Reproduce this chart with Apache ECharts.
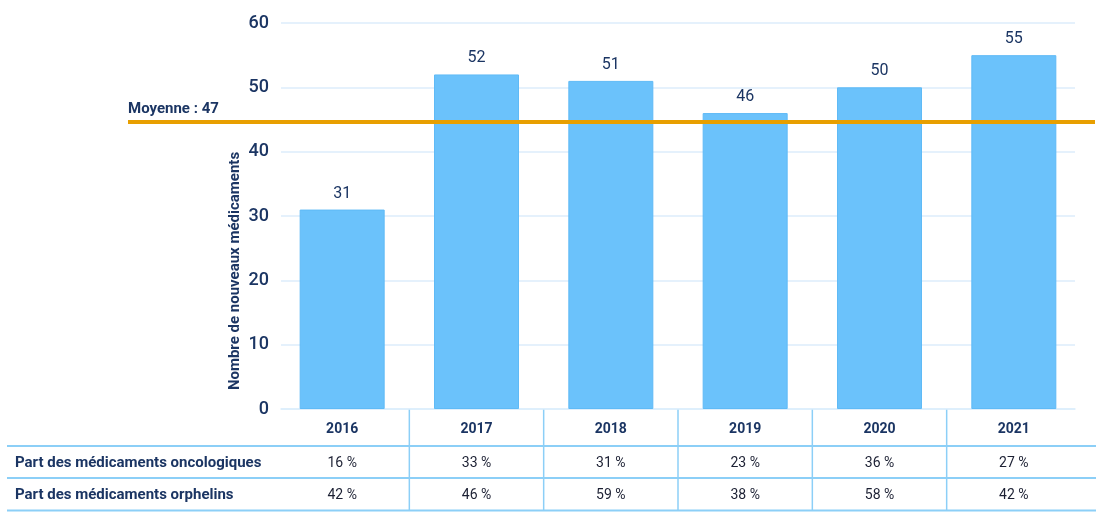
<!DOCTYPE html>
<html><head><meta charset="utf-8">
<script src="https://cdn.jsdelivr.net/npm/echarts@6/dist/echarts.min.js"></script>
<style>html,body{margin:0;padding:0;background:#fff}#c{width:1112px;height:516px}</style>
</head><body><div id="c"></div>
<script>
const years = ['2016', '2017', '2018', '2019', '2020', '2021'];
const newDrugs = [31, 52, 51, 46, 50, 55];
const oncoShare = [16, 33, 31, 23, 36, 27];
const orphanShare = [42, 46, 59, 38, 58, 42];
const yTicks = [0, 10, 20, 30, 40, 50, 60];
const averageLabel = 'Moyenne : 47';
const averageLineValue = 44.6;
const rowLabels = ['Part des médicaments oncologiques', 'Part des médicaments orphelins'];
const yAxisTitle = 'Nombre de nouveaux médicaments';

const NAVY = '#1b3563';
const FONT = 'Roboto, "Noto Sans", sans-serif';
const TABLE_LINE = '#8ccff7';
const yMin = yTicks[0], yMax = yTicks[yTicks.length - 1];

const chart = echarts.init(document.getElementById('c'));
const option = {
  animation: false,
  backgroundColor: '#fff',
  textStyle: { fontFamily: FONT },
  grid: [
    { left: 275, right: 31, top: 23, bottom: 107, outerBoundsMode: 'none', containLabel: false },
    { left: 128, right: 17, top: 23, bottom: 107, outerBoundsMode: 'none', containLabel: false },
    { left: 281, right: 37, top: 23, bottom: 107, outerBoundsMode: 'none', containLabel: false }
  ],
  xAxis: [
    {
      gridIndex: 0, type: 'category', data: years, position: 'bottom',
      axisLine: { show: false },
      axisTick: { show: false },
      axisLabel: { interval: 0, margin: 13, color: NAVY, fontWeight: 'bold', fontSize: 14, fontFamily: FONT }
    },
    {
      gridIndex: 0, type: 'category', data: oncoShare.map(v => v + ' %'), position: 'bottom', offset: 34,
      axisLine: { show: false }, axisTick: { show: false },
      axisLabel: { interval: 0, margin: 13, color: '#1c2033', fontSize: 14, fontFamily: FONT }
    },
    {
      gridIndex: 0, type: 'category', data: orphanShare.map(v => v + ' %'), position: 'bottom', offset: 66,
      axisLine: { show: false }, axisTick: { show: false },
      axisLabel: { interval: 0, margin: 13, color: '#1c2033', fontSize: 14, fontFamily: FONT }
    },
    { gridIndex: 1, type: 'value', min: 0, max: 1, show: false },
    {
      gridIndex: 2, type: 'value', min: 0, max: 1, position: 'bottom',
      axisLine: { show: true, lineStyle: { color: '#dceefb', width: 1.5 } },
      axisTick: { show: false }, axisLabel: { show: false }, splitLine: { show: false }
    }
  ],
  yAxis: [
    {
      gridIndex: 0, type: 'value', min: yMin, max: yMax, interval: 10,
      axisLine: { show: false }, axisTick: { show: false },
      splitLine: { show: false },
      axisLabel: { margin: 6, color: NAVY, fontSize: 18, fontWeight: 500, fontFamily: FONT }
    },
    { gridIndex: 1, type: 'value', min: yMin, max: yMax, show: false },
    {
      gridIndex: 2, type: 'value', min: yMin, max: yMax, interval: 10,
      axisLine: { show: false }, axisTick: { show: false }, axisLabel: { show: false },
      splitLine: { show: true, lineStyle: { color: '#dcedfb', width: 1.5 } }
    }
  ],
  series: [
    {
      type: 'bar', xAxisIndex: 0, yAxisIndex: 0, data: newDrugs, barWidth: 85, z: 3,
      itemStyle: { color: '#6bc2fb', borderColor: '#5fbaf6', borderWidth: 1 },
      label: { show: true, position: 'top', distance: 8, color: NAVY, fontSize: 16, fontFamily: FONT }
    },
    {
      type: 'line', xAxisIndex: 3, yAxisIndex: 1, data: [], z: 5,
      markLine: {
        silent: true, symbol: 'none', animation: false,
        lineStyle: { color: '#e89f00', width: 4, type: 'solid' },
        label: { show: true, position: 'insideStartTop', formatter: averageLabel, distance: [0, 5],
          color: NAVY, fontWeight: 'bold', fontSize: 15, fontFamily: FONT },
        data: [{ yAxis: averageLineValue }]
      }
    }
  ]
};
chart.setOption(option);

// table decoration derived from the axis scale
const c0 = chart.convertToPixel({ xAxisIndex: 0 }, years[0]);
const c1 = chart.convertToPixel({ xAxisIndex: 0 }, years[1]);
const band = c1 - c0;
const y0 = chart.convertToPixel({ yAxisIndex: 0 }, 0);
const graphics = [];
for (let i = 0; i < years.length - 1; i++) {
  const x = chart.convertToPixel({ xAxisIndex: 0 }, years[i]) + band / 2;
  graphics.push({ type: 'line', shape: { x1: x, y1: y0, x2: x, y2: y0 + 102 }, style: { stroke: TABLE_LINE, lineWidth: 1.5 }, silent: true });
}
[37, 69, 101.5].forEach(dy => {
  graphics.push({ type: 'line', shape: { x1: 7, y1: y0 + dy, x2: 1096, y2: y0 + dy }, style: { stroke: TABLE_LINE, lineWidth: 2 }, silent: true });
});
rowLabels.forEach((t, i) => {
  graphics.push({ type: 'text', x: 15, y: y0 + 54 + i * 32, style: { text: t, fill: NAVY, font: 'bold 15px ' + FONT, textAlign: 'left', textVerticalAlign: 'middle' }, silent: true });
});
graphics.push({ type: 'text', x: 235, y: 271, rotation: Math.PI / 2, style: { text: yAxisTitle, fill: NAVY, font: 'bold 15px ' + FONT, textAlign: 'center', textVerticalAlign: 'middle' }, silent: true });
chart.setOption({ graphic: graphics });
</script>
</body></html>
